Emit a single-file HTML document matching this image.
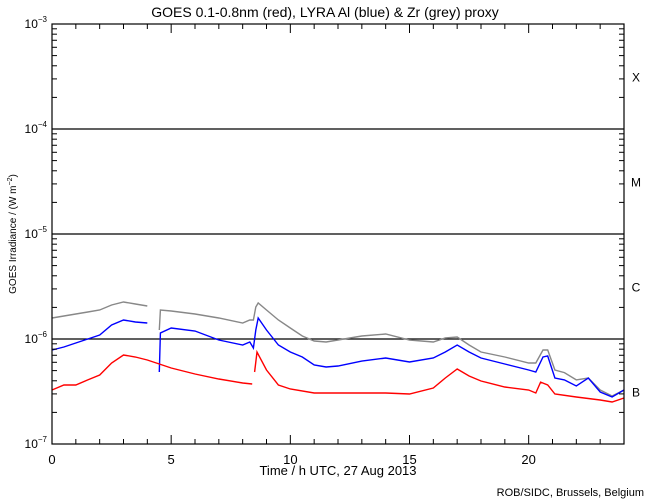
<!DOCTYPE html>
<html><head><meta charset="utf-8"><style>
body{margin:0;background:#fff}
svg{display:block;font-family:"Liberation Sans",sans-serif}
</style></head><body>
<svg id="c" width="650" height="500"></svg>
<script>
const tRed=[0,0.5,1,1.5,2,2.5,3,3.5,4,4.5,5,6,7,8,8.4,null,8.5,8.6,9,9.5,10,11,12,13,14,15,16,16.5,17,17.5,18,19,20,20.3,20.5,20.8,21.1,22,23,23.5,24];
const redLog=[-6.486,-6.438,-6.438,-6.39,-6.343,-6.229,-6.152,-6.171,-6.2,-6.238,-6.276,-6.333,-6.381,-6.419,-6.429,null,-6.314,-6.124,-6.295,-6.438,-6.476,-6.514,-6.514,-6.514,-6.514,-6.524,-6.467,-6.371,-6.286,-6.352,-6.4,-6.457,-6.486,-6.514,-6.41,-6.438,-6.524,-6.552,-6.581,-6.6,-6.562];
const tLyra=[0,0.5,1,1.5,2,2.5,3,3.5,4,null,4.5,4.55,5,6,7,8,8.3,8.45,8.55,8.65,9,9.5,10,10.5,11,11.5,12,13,14,15,16,16.5,17,17.5,18,19,20,20.3,20.6,20.8,21.1,21.5,22,22.5,23,23.5,24];
const blueLog=[-6.105,-6.076,-6.038,-6.0,-5.962,-5.867,-5.819,-5.838,-5.848,null,-6.314,-5.943,-5.895,-5.924,-6.01,-6.057,-6.029,-6.086,-5.914,-5.8,-5.914,-6.057,-6.124,-6.171,-6.248,-6.267,-6.257,-6.21,-6.181,-6.219,-6.181,-6.124,-6.057,-6.124,-6.181,-6.238,-6.295,-6.314,-6.171,-6.162,-6.371,-6.39,-6.448,-6.371,-6.505,-6.552,-6.486];
const greyLog=[-5.8,-5.781,-5.762,-5.743,-5.724,-5.676,-5.648,-5.667,-5.686,null,-5.914,-5.724,-5.733,-5.762,-5.8,-5.848,-5.819,-5.819,-5.695,-5.657,-5.724,-5.819,-5.895,-5.971,-6.019,-6.029,-6.01,-5.971,-5.952,-6.01,-6.029,-5.99,-5.981,-6.057,-6.124,-6.171,-6.229,-6.229,-6.105,-6.105,-6.295,-6.32,-6.39,-6.371,-6.486,-6.543,-6.486];
const xTicks=[0,5,10,15,20];
const yDecades=[-3,-4,-5,-6,-7];
const classLabels=["X","M","C","B"];

const NS="http://www.w3.org/2000/svg",svg=document.getElementById('c');
const X0=52,X1=624,Y0=24,Y1=444;
const sx=t=>X0+(X1-X0)*t/24;
const sy=e=>Y0+(Y1-Y0)*(-3-e)/4;
function el(tag,attrs,parent){const e=document.createElementNS(NS,tag);for(const k in attrs)e.setAttribute(k,attrs[k]);(parent||svg).appendChild(e);return e;}

let t=el('text',{x:325,y:17,'text-anchor':'middle','font-size':14});


t.textContent='GOES 0.1-0.8nm (red), LYRA Al (blue) & Zr (grey) proxy';

// grid lines at class boundaries
[-4,-5,-6].forEach(e=>{const l=el('line',{x1:X0,x2:X1,y1:sy(e),y2:sy(e),stroke:'#000','stroke-width':1.2});

});

// series
function series(ts,vs,color,name){let d='',pen=false;
 for(let i=0;i<ts.length;i++){if(ts[i]===null||vs[i]===null){pen=false;continue;}
  d+=(pen?'L':'M')+sx(ts[i]).toFixed(1)+','+sy(vs[i]).toFixed(1);pen=true;}
 const p=el('path',{d:d,fill:'none',stroke:color,'stroke-width':1.4});
 
 }
series(tLyra,greyLog,'#888','series-zr-grey');
series(tLyra,blueLog,'#0000ff','series-al-blue');
series(tRed,redLog,'#ff0000','series-goes-red');

// frame
let f=el('rect',{x:X0,y:Y0,width:X1-X0,height:Y1-Y0,fill:'none',stroke:'#000','stroke-width':1.2});



// x ticks
for(let h=0;h<=24;h++){const major=h%5===0,len=major?9:5;
 el('line',{x1:sx(h),x2:sx(h),y1:Y1,y2:Y1-len,stroke:'#000'});
 el('line',{x1:sx(h),x2:sx(h),y1:Y0,y2:Y0+len,stroke:'#000'});}
xTicks.forEach(h=>{const l=el('text',{x:sx(h),y:Y1+20,'text-anchor':'middle','font-size':13});
 
 
 l.textContent=h;});
t=el('text',{x:338,y:475,'text-anchor':'middle','font-size':13});


t.textContent='Time / h UTC, 27 Aug 2013';

// y ticks
for(let d=-7;d<-3;d++){for(let m=1;m<10;m++){const e=d+Math.log10(m),len=m===1?9:5;
 el('line',{x1:X0,x2:X0+len,y1:sy(e),y2:sy(e),stroke:'#000'});
 el('line',{x1:X1,x2:X1-len,y1:sy(e),y2:sy(e),stroke:'#000'});}}
yDecades.forEach(e=>{const l=el('text',{x:X0-5,y:sy(e)+4,'text-anchor':'end','font-size':12});
 
 
 const a=el('tspan',{},l);a.textContent='10';
 const b=el('tspan',{dy:-6,'font-size':8},l);b.textContent='−'+(-e);});
t=el('text',{transform:'translate(16,234) rotate(-90)','text-anchor':'middle','font-size':10});


t.innerHTML='GOES Irradiance / (W m<tspan dy="-4" font-size="7">−2</tspan><tspan dy="4">)</tspan>';

// class labels
classLabels.forEach((c,i)=>{const l=el('text',{x:636,y:sy(-3.5-i)+5,'text-anchor':'middle','font-size':12});
 
 
 l.textContent=c;});

t=el('text',{x:644,y:496,'text-anchor':'end','font-size':11});


t.textContent='ROB/SIDC, Brussels, Belgium';
</script>
</body></html>
